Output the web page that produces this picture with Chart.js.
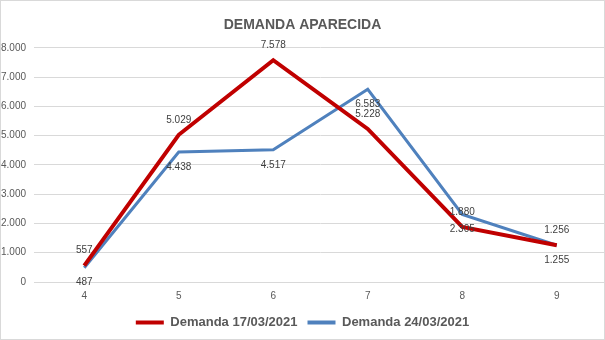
<!DOCTYPE html>
<html>
<head>
<meta charset="utf-8">
<script src="https://cdn.jsdelivr.net/npm/chart.js@4.4.1/dist/chart.umd.min.js"></script>
<style>
  body { margin: 0; background: #fff; }
  #wrap { width: 605px; height: 340px; box-sizing: border-box; border: 1px solid #d9d9d9; }
</style>
</head>
<body>
<div id="wrap"><canvas id="demandaChart" width="603" height="338"></canvas></div>
<script>
const semanas = ['4', '5', '6', '7', '8', '9'];
const demanda1703 = [557, 5029, 7578, 5228, 1880, 1256];
const demanda2403 = [487, 4438, 4517, 6583, 2305, 1255];
const yMin = 0;
const yMax = 8000;
const yStep = 1000;

const textColor = '#595959';
const fontFam = '"Liberation Sans", Arial, sans-serif';

function formatMiles(v) {
  return String(v).replace(/\B(?=(\d{3})+(?!\d))/g, '.');
}

// etiquetas de datos: roja encima, azul debajo
const etiquetas = {
  id: 'etiquetas',
  afterDatasetsDraw(chart, args, opts) {
    const ctx = chart.ctx;
    ctx.save();
    ctx.font = '10px ' + fontFam;
    ctx.fillStyle = '#404040';
    ctx.textAlign = 'center';
    ctx.textBaseline = 'middle';
    chart.data.datasets.forEach((ds, i) => {
      const meta = chart.getDatasetMeta(i);
      meta.data.forEach((pt, j) => {
        ctx.fillText(formatMiles(ds.data[j]), pt.x, pt.y + opts.offsets[i]);
      });
    });
    ctx.restore();
  }
};

const ctx = document.getElementById('demandaChart').getContext('2d');
new Chart(ctx, {
  type: 'line',
  data: {
    labels: semanas,
    datasets: [
      {
        label: 'Demanda 17/03/2021',
        data: demanda1703,
        borderColor: '#c00000',
        backgroundColor: '#c00000',
        borderWidth: 4,
        pointRadius: 0,
        tension: 0
      },
      {
        label: 'Demanda 24/03/2021',
        data: demanda2403,
        borderColor: '#4f81bd',
        backgroundColor: '#4f81bd',
        borderWidth: 3,
        pointRadius: 0,
        tension: 0
      }
    ]
  },
  options: {
    responsive: false,
    animation: false,
    layout: { padding: { left: 0, right: 0, top: 0, bottom: 0 } },
    plugins: {
      title: {
        display: true,
        text: 'DEMANDA APARECIDA',
        color: textColor,
        font: { family: fontFam, size: 14, weight: 'bold' },
        padding: { top: 16, bottom: 14 }
      },
      legend: {
        position: 'bottom',
        labels: {
          color: textColor,
          font: { family: fontFam, size: 13, weight: 'bold' },
          boxWidth: 28,
          boxHeight: 4,
          padding: 10,
          generateLabels: chart => Chart.defaults.plugins.legend.labels.generateLabels(chart)
            .map(l => ({ ...l, lineWidth: 0, fillStyle: l.strokeStyle }))
        }
      },
      tooltip: { enabled: false },
      etiquetas: { offsets: [-15, 15] }
    },
    scales: {
      x: {
        offset: true,
        grid: { display: false, drawTicks: false },
        border: { display: true, color: '#d9d9d9' },
        ticks: { color: textColor, font: { family: fontFam, size: 10 }, padding: 8 },
        afterFit: scale => { scale.height = 24; }
      },
      y: {
        min: yMin,
        max: yMax,
        ticks: {
          stepSize: yStep,
          color: textColor,
          font: { family: fontFam, size: 10 },
          padding: 8,
          callback: v => formatMiles(v)
        },
        grid: { color: '#d9d9d9', tickLength: 3 },
        border: { display: false },
        afterFit: scale => { scale.width = 36; }
      }
    }
  },
  plugins: [etiquetas]
});
</script>
</body>
</html>
